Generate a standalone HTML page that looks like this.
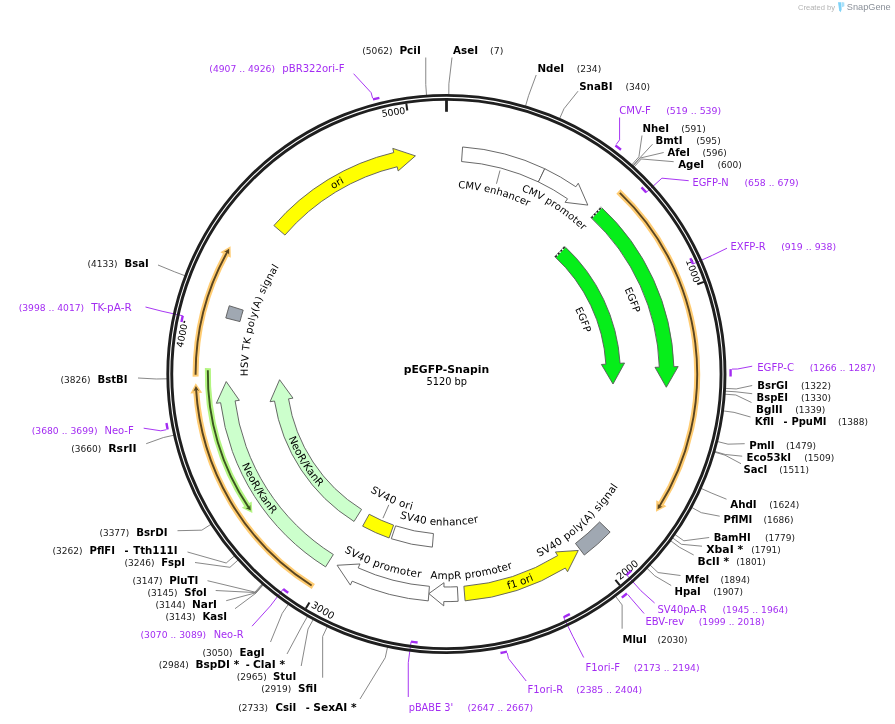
<!DOCTYPE html>
<html><head><meta charset="utf-8"><title>pEGFP-Snapin</title>
<style>html,body{margin:0;padding:0;background:#fff;}svg{display:block;}</style></head>
<body>
<svg width="895" height="724" viewBox="0 0 895 724" font-family='"DejaVu Sans", "Liberation Sans", sans-serif'>
<rect width="895" height="724" fill="#fff"/>
<defs><path id="p1" d="M397.59 194.1A186.4 186.4 0 0 1 577.79 241.78"/>
<path id="p2" d="M456.41 176.35A197.9 197.9 0 0 1 622.57 283.85"/>
<path id="p3" d="M568.62 219.24A197.2 197.2 0 0 1 641.53 402.47"/>
<path id="p4" d="M535.65 260.99A144 144 0 0 1 588.89 394.79"/>
<path id="p5" d="M488.54 574.83A205.2 205.2 0 0 0 641.39 437.92"/>
<path id="p6" d="M405.58 594.25A224 224 0 0 0 616.73 519.48"/>
<path id="p7" d="M366.88 563.17A205.2 205.2 0 0 0 570.46 537.45"/>
<path id="p8" d="M292.71 509.97A205.2 205.2 0 0 0 487.31 575.08"/>
<path id="p9" d="M364.22 501.27A151.5 151.5 0 0 0 515.53 508.81"/>
<path id="p10" d="M333.47 457.26A140.3 140.3 0 0 0 462.04 513.43"/>
<path id="p11" d="M222.67 379.47A223.8 223.8 0 0 0 339.27 570.49"/>
<path id="p12" d="M276.08 379.35A170.4 170.4 0 0 0 365.88 524.17"/>
<path id="p13" d="M253.67 421.94A198.6 198.6 0 0 1 308.52 231.07"/>
<path id="p14" d="M259.03 264.95A216.8 216.8 0 0 1 447.16 157.2"/></defs>
<g fill="none" stroke="#7a7a7a" stroke-width="0.9" stroke-linejoin="round"><polyline points="425.76,57.5 425.76,84.53 426.57,95.91" />
<polyline points="452,57.5 448.89,83.81 448.79,95.21" />
<polyline points="536.2,75 528.59,95.68 525.36,106.62" />
<polyline points="578,91.2 564,108.7 559.38,119.12" />
<polyline points="642,135.5 638.9,156.84 631.34,165.37" />
<polyline points="652.5,144.2 639.96,157.78 632.36,166.28" />
<polyline points="663.7,152.5 640.23,158.02 632.61,166.51" />
<polyline points="673.7,161.7 641.29,158.98 633.63,167.42" />
<polyline points="752.2,385.5 736.21,388.95 724.83,388.36" />
<polyline points="752.2,393.7 736.05,391.8 724.68,391.1" />
<polyline points="751.5,402.5 735.84,394.99 724.47,394.17" />
<polyline points="750.5,417 734.05,412.35 722.75,410.84" />
<polyline points="744.7,443.7 727.99,444.17 716.93,441.41" />
<polyline points="742.2,456.2 725.22,454.48 714.26,451.32" />
<polyline points="741,463.7 725.02,455.17 714.07,451.98" />
<polyline points="726.5,499.2 711.12,492.9 700.72,488.23" />
<polyline points="719.7,516.2 701.32,512.68 691.31,507.23" />
<polyline points="709.2,537.5 683.87,540.81 674.54,534.26" />
<polyline points="702,546.2 681.39,544.29 672.15,537.6" />
<polyline points="693.7,555 679.28,547.16 670.13,540.36" />
<polyline points="680.5,575.5 658.04,572.55 649.73,564.75" />
<polyline points="671.2,585.5 654.85,575.9 646.66,567.97" />
<polyline points="622.12,628.7 622.12,604.95 615.22,595.88" />
<polyline points="360,699 385.25,657.68 387.65,646.54" />
<polyline points="322.65,677.7 322.65,636.49 327.51,626.18" />
<polyline points="301.2,666 308.03,629.09 313.47,619.07" />
<polyline points="287,654 302.12,625.79 307.79,615.9" />
<polyline points="270.5,642 282.22,613.3 288.67,603.9" />
<polyline points="235,608.7 256.04,593.04 263.52,584.44" />
<polyline points="226.2,600.7 255.77,592.81 263.26,584.21" />
<polyline points="215.7,590.5 255.5,592.57 263,583.99" />
<polyline points="207.5,580.7 254.97,592.11 262.49,583.54" />
<polyline points="195,562.5 229.95,567.3 238.45,559.7" />
<polyline points="187.5,552 226.19,563.01 234.84,555.59" />
<polyline points="177.5,530.7 201.8,530.16 211.41,524.02" />
<polyline points="146.2,443.7 163.25,437.58 174.37,435.09" />
<polyline points="138,378 156.24,378.99 167.64,378.79" />
<polyline points="158,265 174.76,271.89 185.43,275.9" /></g>
<g fill="none" stroke="#a32cf2" stroke-width="0.95" stroke-linejoin="round"><polyline points="619.58,117.5 619.58,139.89 616.25,144.4" />
<polyline points="688.7,180.7 661.92,178.18 646.23,192.43" />
<polyline points="727,248.2 712.33,255.34 692.97,263.98" />
<polyline points="752.2,366.2 737.56,369 731.96,369.09" />
<polyline points="654.6,603 640.9,590.72 626.74,574.94" />
<polyline points="644.1,613.5 631.41,598.87 627.85,594.55" />
<polyline points="583.7,657.5 572.84,636.32 563.63,617.22" />
<polyline points="526.2,681 508.46,658.51 507.26,653.04" />
<polyline points="408.27,697 408.27,662.69 411.05,641.68" />
<polyline points="252,626.2 270.36,605.96 283.18,589.08" />
<polyline points="143.7,428.2 160.8,430.81 166.29,429.72" />
<polyline points="145.5,307 162.04,311.24 182.74,315.81" />
<polyline points="353.6,73.7 371.15,92.69 372.59,98.1" /></g>
<circle cx="446.4" cy="374" r="278.6" fill="none" stroke="#1f1f1f" stroke-width="2.9"/>
<circle cx="446.4" cy="374" r="274.65" fill="none" stroke="#1f1f1f" stroke-width="2.9"/>
<line x1="446.5" y1="100" x2="446.5" y2="111.8" stroke="#1f1f1f" stroke-width="2.8"/>
<line x1="703.91" y1="281.86" x2="697.23" y2="284.25" stroke="#1f1f1f" stroke-width="2.0"/>
<text transform="translate(446.4,374) rotate(70.31)" x="-2" y="-263.6" text-anchor="end" font-size="9.4">1000</text>
<line x1="619.91" y1="585.42" x2="615.4" y2="579.93" stroke="#1f1f1f" stroke-width="2.0"/>
<text transform="translate(446.4,374) rotate(320.62)" x="3.2" y="269.6" text-anchor="start" font-size="9.8">2000</text>
<line x1="305.79" y1="608.59" x2="309.44" y2="602.5" stroke="#1f1f1f" stroke-width="2.0"/>
<text transform="translate(446.4,374) rotate(390.94)" x="3.2" y="269.6" text-anchor="start" font-size="9.8">3000</text>
<line x1="183.55" y1="321.72" x2="185.12" y2="322.03" stroke="#1f1f1f" stroke-width="2.0"/>
<text transform="translate(446.4,374) rotate(281.25)" x="-2" y="-263.6" text-anchor="end" font-size="9.4">4000</text>
<line x1="406.27" y1="103.46" x2="407.31" y2="110.48" stroke="#1f1f1f" stroke-width="2.0"/>
<text transform="translate(446.4,374) rotate(351.56)" x="-2" y="-263.6" text-anchor="end" font-size="9.4">5000</text>
<g fill="none" stroke="#a32cf2" stroke-width="2.4"><path d="M615.42 145.52A284.2 284.2 0 0 1 620.97 149.74"/>
<path d="M641.49 187.34A270 270 0 0 1 646.23 192.43"/>
<path d="M690.34 258.26A270 270 0 0 1 692.97 263.98"/>
<path d="M730.56 369.12A284.2 284.2 0 0 1 730.59 376.44"/>
<path d="M631.37 570.69A270 270 0 0 1 626.74 574.94"/>
<path d="M626.96 593.47A284.2 284.2 0 0 1 621.8 597.62"/>
<path d="M569.86 614.12A270 270 0 0 1 563.63 617.22"/>
<path d="M506.97 651.67A284.2 284.2 0 0 1 500.48 653.01"/>
<path d="M417.63 642.46A270 270 0 0 1 411.05 641.68"/>
<path d="M288.23 592.82A270 270 0 0 1 283.18 589.08"/>
<path d="M167.66 429.44A284.2 284.2 0 0 1 166.44 422.93"/>
<path d="M181.46 321.98A270 270 0 0 1 182.74 315.81"/>
<path d="M372.96 99.45A284.2 284.2 0 0 1 379.38 97.82"/></g>
<path d="M462.59 146.98A227.6 227.6 0 0 1 544.72 168.73L538.41 181.9A213 213 0 0 0 461.55 161.54Z" fill="#ffffff" stroke="#585858" stroke-width="0.9" stroke-linejoin="miter"/>
<path d="M544.72 168.73A227.6 227.6 0 0 1 575.83 186.78L578.28 183.25L587.82 205.09L565.08 202.33L567.53 198.79A213 213 0 0 0 538.41 181.9Z" fill="#ffffff" stroke="#585858" stroke-width="0.9" stroke-linejoin="miter"/>
<path d="M600.9 206.87A227.6 227.6 0 0 1 673.88 366.71L678.18 366.58L666.3 387.24L654.99 367.32L659.29 367.18A213 213 0 0 0 590.98 217.59Z" fill="#06ee1a" stroke="#585858" stroke-width="0.9" stroke-linejoin="miter"/>
<path d="M564.51 246.23A174 174 0 0 1 620.07 363.31L624.56 363.03L613 384.03L601.41 364.46L605.9 364.18A159.8 159.8 0 0 0 554.87 256.66Z" fill="#06ee1a" stroke="#585858" stroke-width="0.9" stroke-linejoin="miter"/>
<line x1="591.48" y1="218.05" x2="601.43" y2="207.36" stroke="#fff" stroke-width="1.6"/>
<line x1="591.48" y1="218.05" x2="601.43" y2="207.36" stroke="#222" stroke-width="1.6" stroke-dasharray="2.2 1.6"/>
<line x1="555.36" y1="257.11" x2="565.05" y2="246.72" stroke="#fff" stroke-width="1.6"/>
<line x1="555.36" y1="257.11" x2="565.05" y2="246.72" stroke="#222" stroke-width="1.6" stroke-dasharray="2.2 1.6"/>
<path d="M610.12 532.1A227.6 227.6 0 0 1 584.32 555.05L575.48 543.44A213 213 0 0 0 599.62 521.96Z" fill="#a0a8b2" stroke="#585858" stroke-width="0.9" stroke-linejoin="miter"/>
<path d="M465.09 600.83A227.6 227.6 0 0 0 565.3 568.07L567.55 571.74L578.28 550.46L555.43 551.96L557.67 555.62A213 213 0 0 1 463.89 586.28Z" fill="#ffff00" stroke="#585858" stroke-width="0.9" stroke-linejoin="miter"/>
<path d="M458.13 601.3A227.6 227.6 0 0 1 443.79 601.58L443.74 605.88L428.85 593.6L444 582.69L443.95 586.99A213 213 0 0 0 457.37 586.72Z" fill="#ffffff" stroke="#585858" stroke-width="0.9" stroke-linejoin="miter"/>
<path d="M428.26 600.88A227.6 227.6 0 0 1 352.15 581.17L350.37 585.08L337.11 565.28L359.98 563.97L358.2 567.88A213 213 0 0 0 429.43 586.32Z" fill="#ffffff" stroke="#585858" stroke-width="0.9" stroke-linejoin="miter"/>
<path d="M432.35 547.13A173.7 173.7 0 0 1 391.31 538.73L395.62 525.83A160.1 160.1 0 0 0 433.45 533.58Z" fill="#ffffff" stroke="#585858" stroke-width="0.9" stroke-linejoin="miter"/>
<path d="M389.09 537.97A173.7 173.7 0 0 1 362.64 526.17L369.2 514.26A160.1 160.1 0 0 0 393.58 525.13Z" fill="#ffff00" stroke="#585858" stroke-width="0.9" stroke-linejoin="miter"/>
<path d="M325.58 566.88A227.6 227.6 0 0 1 220.62 402.72L216.35 403.26L226.23 381.57L239.37 400.33L235.1 400.87A213 213 0 0 0 333.33 554.51Z" fill="#ccffcc" stroke="#585858" stroke-width="0.9" stroke-linejoin="miter"/>
<path d="M354.03 521.46A174 174 0 0 1 274.51 401.03L270.07 401.73L279.6 379.73L292.99 398.13L288.54 398.83A159.8 159.8 0 0 0 361.57 509.43Z" fill="#ccffcc" stroke="#585858" stroke-width="0.9" stroke-linejoin="miter"/>
<path d="M225.8 317.98A227.6 227.6 0 0 1 229.27 305.75L243.2 310.13A213 213 0 0 0 239.95 321.57Z" fill="#a0a8b2" stroke="#585858" stroke-width="0.9" stroke-linejoin="miter"/>
<path d="M273.88 225.55A227.6 227.6 0 0 1 393.79 152.56L392.79 148.38L415.41 155.89L398.16 170.95L397.16 166.77A213 213 0 0 0 284.94 235.07Z" fill="#ffff00" stroke="#585858" stroke-width="0.9" stroke-linejoin="miter"/>
<path d="M618.4 191.47A250.8 250.8 0 0 1 660.83 504.09" fill="none" stroke="#ffcc72" stroke-width="6.0"/>
<path d="M666.4 506.27L656.02 511.69L656.29 500.19Z" fill="#ffcc72"/>
<path d="M619.85 192.85A250.8 250.8 0 0 1 658.99 507.07" fill="none" stroke="#5a4520" stroke-width="1.9"/>
<path d="M662.78 506.45L657.54 509.35L657.83 503.43L659.47 506.3Z" fill="#5a4520"/>
<path d="M313.31 586.57A250.8 250.8 0 0 1 196.26 392.18" fill="none" stroke="#ffcc72" stroke-width="6.0"/>
<path d="M190.45 393.62L195.77 383.19L202.22 392.72Z" fill="#ffcc72"/>
<path d="M311.62 585.51A250.8 250.8 0 0 1 196.03 388.68" fill="none" stroke="#5a4520" stroke-width="1.9"/>
<path d="M193.3 391.38L195.89 385.99L199.08 390.98L196.08 389.58Z" fill="#5a4520"/>
<path d="M195.61 376.63A250.8 250.8 0 0 1 226.08 254.16" fill="none" stroke="#ffcc72" stroke-width="6.0"/>
<path d="M220.41 252.24L230.53 246.33L230.8 257.84Z" fill="#ffcc72"/>
<path d="M195.6 374.63A250.8 250.8 0 0 1 227.78 251.1" fill="none" stroke="#5a4520" stroke-width="1.9"/>
<path d="M224.02 251.89L229.11 248.75L229.11 254.68L227.34 251.88Z" fill="#5a4520"/>
<path d="M207.87 368.17A238.6 238.6 0 0 0 247.29 505.48" fill="none" stroke="#b4f582" stroke-width="6.0"/>
<path d="M241.81 507.87L252.39 512.89L251.68 501.41Z" fill="#b4f582"/>
<path d="M207.83 370.17A238.6 238.6 0 0 0 249.24 508.39" fill="none" stroke="#3a5520" stroke-width="1.9"/>
<path d="M245.43 507.92L250.78 510.61L250.26 504.7L248.74 507.64Z" fill="#3a5520"/>
<text font-size="10.0" fill="#000" font-weight="normal"><textPath href="#p1" startOffset="50%" text-anchor="middle" letter-spacing="0.03">CMV enhancer</textPath></text>
<text font-size="10.0" fill="#000" font-weight="normal"><textPath href="#p2" startOffset="50%" text-anchor="middle" letter-spacing="0.12">CMV promoter</textPath></text>
<text font-size="10.0" fill="#000" font-weight="normal"><textPath href="#p3" startOffset="50%" text-anchor="middle">EGFP</textPath></text>
<text font-size="10.0" fill="#000" font-weight="normal"><textPath href="#p4" startOffset="50%" text-anchor="middle">EGFP</textPath></text>
<text font-size="10.4" fill="#000" font-weight="normal"><textPath href="#p5" startOffset="50%" text-anchor="middle" letter-spacing="0.3">SV40 poly(A) signal</textPath></text>
<text font-size="10.4" fill="#000" font-weight="normal"><textPath href="#p6" startOffset="50%" text-anchor="middle">f1 ori</textPath></text>
<text font-size="10.4" fill="#000" font-weight="normal"><textPath href="#p7" startOffset="50%" text-anchor="middle" letter-spacing="0.09">AmpR promoter</textPath></text>
<text font-size="10.4" fill="#000" font-weight="normal"><textPath href="#p8" startOffset="50%" text-anchor="middle" letter-spacing="0.25">SV40 promoter</textPath></text>
<text font-size="10.4" fill="#000" font-weight="normal"><textPath href="#p9" startOffset="50%" text-anchor="middle" letter-spacing="0.06">SV40 enhancer</textPath></text>
<text font-size="10.4" fill="#000" font-weight="normal"><textPath href="#p10" startOffset="50%" text-anchor="middle" letter-spacing="0.28">SV40 ori</textPath></text>
<text font-size="10.4" fill="#000" font-weight="normal"><textPath href="#p11" startOffset="50%" text-anchor="middle">NeoR/KanR</textPath></text>
<text font-size="10.4" fill="#000" font-weight="normal"><textPath href="#p12" startOffset="50%" text-anchor="middle">NeoR/KanR</textPath></text>
<text font-size="10.0" fill="#000" font-weight="normal"><textPath href="#p13" startOffset="50%" text-anchor="middle" letter-spacing="0.33">HSV TK poly(A) signal</textPath></text>
<text font-size="10.0" fill="#000" font-weight="normal"><textPath href="#p14" startOffset="50%" text-anchor="middle">ori</textPath></text>
<line x1="499.99" y1="170.44" x2="496.48" y2="183.78" stroke="#606060" stroke-width="0.8"/>
<line x1="382.97" y1="518.16" x2="388.81" y2="504.89" stroke="#606060" stroke-width="0.8"/>
<text x="362.3" y="53.5" font-size="8.0" font-weight="normal" fill="#1a1a1a" textLength="30.2" lengthAdjust="spacingAndGlyphs">(5062)</text>
<text x="399.4" y="53.5" font-size="10.2" font-weight="bold" fill="#000" textLength="21.4" lengthAdjust="spacingAndGlyphs">PciI</text>
<text x="453" y="53.5" font-size="10.2" font-weight="bold" fill="#000" textLength="25" lengthAdjust="spacingAndGlyphs">AseI</text>
<text x="490" y="53.5" font-size="8.0" font-weight="normal" fill="#1a1a1a" textLength="13.3" lengthAdjust="spacingAndGlyphs">(7)</text>
<text x="537.5" y="71.5" font-size="10.2" font-weight="bold" fill="#000" textLength="26.7" lengthAdjust="spacingAndGlyphs">NdeI</text>
<text x="576.7" y="71.5" font-size="8.0" font-weight="normal" fill="#1a1a1a" textLength="24.5" lengthAdjust="spacingAndGlyphs">(234)</text>
<text x="579.2" y="89.5" font-size="10.2" font-weight="bold" fill="#000" textLength="33.3" lengthAdjust="spacingAndGlyphs">SnaBI</text>
<text x="625.5" y="89.5" font-size="8.0" font-weight="normal" fill="#1a1a1a" textLength="24.5" lengthAdjust="spacingAndGlyphs">(340)</text>
<text x="642.5" y="131.5" font-size="10.2" font-weight="bold" fill="#000" textLength="26.5" lengthAdjust="spacingAndGlyphs">NheI</text>
<text x="681.2" y="131.5" font-size="8.0" font-weight="normal" fill="#1a1a1a" textLength="24.5" lengthAdjust="spacingAndGlyphs">(591)</text>
<text x="655.5" y="143.5" font-size="10.2" font-weight="bold" fill="#000" textLength="27" lengthAdjust="spacingAndGlyphs">BmtI</text>
<text x="696.2" y="143.5" font-size="8.0" font-weight="normal" fill="#1a1a1a" textLength="24.5" lengthAdjust="spacingAndGlyphs">(595)</text>
<text x="667.5" y="155.5" font-size="10.2" font-weight="bold" fill="#000" textLength="22.5" lengthAdjust="spacingAndGlyphs">AfeI</text>
<text x="702.5" y="155.5" font-size="8.0" font-weight="normal" fill="#1a1a1a" textLength="24.2" lengthAdjust="spacingAndGlyphs">(596)</text>
<text x="678.2" y="167.5" font-size="10.2" font-weight="bold" fill="#000" textLength="26" lengthAdjust="spacingAndGlyphs">AgeI</text>
<text x="717.5" y="167.5" font-size="8.0" font-weight="normal" fill="#1a1a1a" textLength="24.2" lengthAdjust="spacingAndGlyphs">(600)</text>
<text x="757.2" y="388.7" font-size="10.2" font-weight="bold" fill="#000" textLength="30.8" lengthAdjust="spacingAndGlyphs">BsrGI</text>
<text x="801" y="388.7" font-size="8.0" font-weight="normal" fill="#1a1a1a" textLength="30" lengthAdjust="spacingAndGlyphs">(1322)</text>
<text x="756.5" y="400.7" font-size="10.2" font-weight="bold" fill="#000" textLength="31.5" lengthAdjust="spacingAndGlyphs">BspEI</text>
<text x="801" y="400.7" font-size="8.0" font-weight="normal" fill="#1a1a1a" textLength="30" lengthAdjust="spacingAndGlyphs">(1330)</text>
<text x="756" y="412.7" font-size="10.2" font-weight="bold" fill="#000" textLength="26.7" lengthAdjust="spacingAndGlyphs">BglII</text>
<text x="795.2" y="412.7" font-size="8.0" font-weight="normal" fill="#1a1a1a" textLength="30" lengthAdjust="spacingAndGlyphs">(1339)</text>
<text x="754.7" y="424.7" font-size="10.2" font-weight="bold" fill="#000" textLength="19.5" lengthAdjust="spacingAndGlyphs">KflI</text>
<text x="783.6" y="424.7" font-size="10.2" font-weight="bold" fill="#000" textLength="4" lengthAdjust="spacingAndGlyphs">-</text>
<text x="791.5" y="424.7" font-size="10.2" font-weight="bold" fill="#000" textLength="35" lengthAdjust="spacingAndGlyphs">PpuMI</text>
<text x="838" y="424.7" font-size="8.0" font-weight="normal" fill="#1a1a1a" textLength="30" lengthAdjust="spacingAndGlyphs">(1388)</text>
<text x="749.2" y="448.7" font-size="10.2" font-weight="bold" fill="#000" textLength="25.5" lengthAdjust="spacingAndGlyphs">PmlI</text>
<text x="786" y="448.7" font-size="8.0" font-weight="normal" fill="#1a1a1a" textLength="30" lengthAdjust="spacingAndGlyphs">(1479)</text>
<text x="746.5" y="460.7" font-size="10.2" font-weight="bold" fill="#000" textLength="44.5" lengthAdjust="spacingAndGlyphs">Eco53kI</text>
<text x="804.2" y="460.7" font-size="8.0" font-weight="normal" fill="#1a1a1a" textLength="30" lengthAdjust="spacingAndGlyphs">(1509)</text>
<text x="743.5" y="472.7" font-size="10.2" font-weight="bold" fill="#000" textLength="23.7" lengthAdjust="spacingAndGlyphs">SacI</text>
<text x="779.2" y="472.7" font-size="8.0" font-weight="normal" fill="#1a1a1a" textLength="29.8" lengthAdjust="spacingAndGlyphs">(1511)</text>
<text x="730.2" y="508" font-size="10.2" font-weight="bold" fill="#000" textLength="26.5" lengthAdjust="spacingAndGlyphs">AhdI</text>
<text x="769.2" y="508" font-size="8.0" font-weight="normal" fill="#1a1a1a" textLength="30" lengthAdjust="spacingAndGlyphs">(1624)</text>
<text x="723.5" y="523" font-size="10.2" font-weight="bold" fill="#000" textLength="28.7" lengthAdjust="spacingAndGlyphs">PflMI</text>
<text x="763.5" y="523" font-size="8.0" font-weight="normal" fill="#1a1a1a" textLength="30" lengthAdjust="spacingAndGlyphs">(1686)</text>
<text x="713.7" y="541" font-size="10.2" font-weight="bold" fill="#000" textLength="37" lengthAdjust="spacingAndGlyphs">BamHI</text>
<text x="765" y="541" font-size="8.0" font-weight="normal" fill="#1a1a1a" textLength="30" lengthAdjust="spacingAndGlyphs">(1779)</text>
<text x="706.2" y="553" font-size="10.2" font-weight="bold" fill="#000" textLength="37" lengthAdjust="spacingAndGlyphs">XbaI *</text>
<text x="751.2" y="553" font-size="8.0" font-weight="normal" fill="#1a1a1a" textLength="29.5" lengthAdjust="spacingAndGlyphs">(1791)</text>
<text x="697.5" y="565" font-size="10.2" font-weight="bold" fill="#000" textLength="31.7" lengthAdjust="spacingAndGlyphs">BclI *</text>
<text x="736.2" y="565" font-size="8.0" font-weight="normal" fill="#1a1a1a" textLength="29.5" lengthAdjust="spacingAndGlyphs">(1801)</text>
<text x="685" y="583" font-size="10.2" font-weight="bold" fill="#000" textLength="24.2" lengthAdjust="spacingAndGlyphs">MfeI</text>
<text x="720.5" y="583" font-size="8.0" font-weight="normal" fill="#1a1a1a" textLength="29.5" lengthAdjust="spacingAndGlyphs">(1894)</text>
<text x="674.5" y="595" font-size="10.2" font-weight="bold" fill="#000" textLength="26.2" lengthAdjust="spacingAndGlyphs">HpaI</text>
<text x="713.2" y="595" font-size="8.0" font-weight="normal" fill="#1a1a1a" textLength="29.8" lengthAdjust="spacingAndGlyphs">(1907)</text>
<text x="622.5" y="643" font-size="10.2" font-weight="bold" fill="#000" textLength="24.2" lengthAdjust="spacingAndGlyphs">MluI</text>
<text x="657.5" y="643" font-size="8.0" font-weight="normal" fill="#1a1a1a" textLength="30" lengthAdjust="spacingAndGlyphs">(2030)</text>
<text x="238.2" y="710.7" font-size="8.0" font-weight="normal" fill="#1a1a1a" textLength="29.8" lengthAdjust="spacingAndGlyphs">(2733)</text>
<text x="275.5" y="710.7" font-size="10.2" font-weight="bold" fill="#000" textLength="20.7" lengthAdjust="spacingAndGlyphs">CsiI</text>
<text x="305.8" y="710.7" font-size="10.2" font-weight="bold" fill="#000" textLength="4" lengthAdjust="spacingAndGlyphs">-</text>
<text x="313.2" y="710.7" font-size="10.2" font-weight="bold" fill="#000" textLength="43.5" lengthAdjust="spacingAndGlyphs">SexAI *</text>
<text x="261.2" y="692" font-size="8.0" font-weight="normal" fill="#1a1a1a" textLength="30" lengthAdjust="spacingAndGlyphs">(2919)</text>
<text x="298" y="692" font-size="10.2" font-weight="bold" fill="#000" textLength="19" lengthAdjust="spacingAndGlyphs">SfiI</text>
<text x="236.7" y="680" font-size="8.0" font-weight="normal" fill="#1a1a1a" textLength="30" lengthAdjust="spacingAndGlyphs">(2965)</text>
<text x="273" y="680" font-size="10.2" font-weight="bold" fill="#000" textLength="23.2" lengthAdjust="spacingAndGlyphs">StuI</text>
<text x="158.7" y="668" font-size="8.0" font-weight="normal" fill="#1a1a1a" textLength="30" lengthAdjust="spacingAndGlyphs">(2984)</text>
<text x="195.5" y="668" font-size="10.2" font-weight="bold" fill="#000" textLength="43.7" lengthAdjust="spacingAndGlyphs">BspDI *</text>
<text x="245.8" y="668" font-size="10.2" font-weight="bold" fill="#000" textLength="4" lengthAdjust="spacingAndGlyphs">-</text>
<text x="253" y="668" font-size="10.2" font-weight="bold" fill="#000" textLength="32" lengthAdjust="spacingAndGlyphs">ClaI *</text>
<text x="202.5" y="656" font-size="8.0" font-weight="normal" fill="#1a1a1a" textLength="30" lengthAdjust="spacingAndGlyphs">(3050)</text>
<text x="239.5" y="656" font-size="10.2" font-weight="bold" fill="#000" textLength="25" lengthAdjust="spacingAndGlyphs">EagI</text>
<text x="165.5" y="620" font-size="8.0" font-weight="normal" fill="#1a1a1a" textLength="30" lengthAdjust="spacingAndGlyphs">(3143)</text>
<text x="202.5" y="620" font-size="10.2" font-weight="bold" fill="#000" textLength="24.5" lengthAdjust="spacingAndGlyphs">KasI</text>
<text x="155.5" y="608" font-size="8.0" font-weight="normal" fill="#1a1a1a" textLength="30" lengthAdjust="spacingAndGlyphs">(3144)</text>
<text x="192" y="608" font-size="10.2" font-weight="bold" fill="#000" textLength="25" lengthAdjust="spacingAndGlyphs">NarI</text>
<text x="147.5" y="596" font-size="8.0" font-weight="normal" fill="#1a1a1a" textLength="30" lengthAdjust="spacingAndGlyphs">(3145)</text>
<text x="184.2" y="596" font-size="10.2" font-weight="bold" fill="#000" textLength="22.5" lengthAdjust="spacingAndGlyphs">SfoI</text>
<text x="132.5" y="584.2" font-size="8.0" font-weight="normal" fill="#1a1a1a" textLength="30" lengthAdjust="spacingAndGlyphs">(3147)</text>
<text x="169.2" y="584.2" font-size="10.2" font-weight="bold" fill="#000" textLength="29" lengthAdjust="spacingAndGlyphs">PluTI</text>
<text x="124.5" y="566.2" font-size="8.0" font-weight="normal" fill="#1a1a1a" textLength="30" lengthAdjust="spacingAndGlyphs">(3246)</text>
<text x="161.2" y="566.2" font-size="10.2" font-weight="bold" fill="#000" textLength="23.8" lengthAdjust="spacingAndGlyphs">FspI</text>
<text x="52.5" y="554.2" font-size="8.0" font-weight="normal" fill="#1a1a1a" textLength="30" lengthAdjust="spacingAndGlyphs">(3262)</text>
<text x="89.5" y="554.2" font-size="10.2" font-weight="bold" fill="#000" textLength="25.5" lengthAdjust="spacingAndGlyphs">PflFI</text>
<text x="124.6" y="554.2" font-size="10.2" font-weight="bold" fill="#000" textLength="4" lengthAdjust="spacingAndGlyphs">-</text>
<text x="133.2" y="554.2" font-size="10.2" font-weight="bold" fill="#000" textLength="44.3" lengthAdjust="spacingAndGlyphs">Tth111I</text>
<text x="99.5" y="536.2" font-size="8.0" font-weight="normal" fill="#1a1a1a" textLength="29.7" lengthAdjust="spacingAndGlyphs">(3377)</text>
<text x="136.2" y="536.2" font-size="10.2" font-weight="bold" fill="#000" textLength="31.3" lengthAdjust="spacingAndGlyphs">BsrDI</text>
<text x="71.2" y="452" font-size="8.0" font-weight="normal" fill="#1a1a1a" textLength="30" lengthAdjust="spacingAndGlyphs">(3660)</text>
<text x="108.2" y="452" font-size="10.2" font-weight="bold" fill="#000" textLength="28.5" lengthAdjust="spacingAndGlyphs">RsrII</text>
<text x="60.5" y="383" font-size="8.0" font-weight="normal" fill="#1a1a1a" textLength="30" lengthAdjust="spacingAndGlyphs">(3826)</text>
<text x="97.5" y="383" font-size="10.2" font-weight="bold" fill="#000" textLength="30" lengthAdjust="spacingAndGlyphs">BstBI</text>
<text x="87.5" y="267.2" font-size="8.0" font-weight="normal" fill="#1a1a1a" textLength="30" lengthAdjust="spacingAndGlyphs">(4133)</text>
<text x="124.5" y="267.2" font-size="10.2" font-weight="bold" fill="#000" textLength="24.2" lengthAdjust="spacingAndGlyphs">BsaI</text>
<text x="619.2" y="114.1" font-size="10" font-weight="normal" fill="#a32cf2" textLength="31.5" lengthAdjust="spacingAndGlyphs">CMV-F</text>
<text x="666.2" y="114.1" font-size="8.0" font-weight="normal" fill="#a32cf2" textLength="55" lengthAdjust="spacingAndGlyphs">(519 .. 539)</text>
<text x="692.5" y="186" font-size="10" font-weight="normal" fill="#a32cf2" textLength="36.2" lengthAdjust="spacingAndGlyphs">EGFP-N</text>
<text x="744.5" y="186" font-size="8.0" font-weight="normal" fill="#a32cf2" textLength="54.2" lengthAdjust="spacingAndGlyphs">(658 .. 679)</text>
<text x="730.5" y="250" font-size="10" font-weight="normal" fill="#a32cf2" textLength="35.2" lengthAdjust="spacingAndGlyphs">EXFP-R</text>
<text x="781.2" y="250" font-size="8.0" font-weight="normal" fill="#a32cf2" textLength="55" lengthAdjust="spacingAndGlyphs">(919 .. 938)</text>
<text x="757.2" y="371" font-size="10" font-weight="normal" fill="#a32cf2" textLength="36.8" lengthAdjust="spacingAndGlyphs">EGFP-C</text>
<text x="809.7" y="371" font-size="8.0" font-weight="normal" fill="#a32cf2" textLength="65.8" lengthAdjust="spacingAndGlyphs">(1266 .. 1287)</text>
<text x="657.5" y="612.5" font-size="10" font-weight="normal" fill="#a32cf2" textLength="49.2" lengthAdjust="spacingAndGlyphs">SV40pA-R</text>
<text x="722.5" y="612.5" font-size="8.0" font-weight="normal" fill="#a32cf2" textLength="65.5" lengthAdjust="spacingAndGlyphs">(1945 .. 1964)</text>
<text x="645.5" y="625" font-size="10" font-weight="normal" fill="#a32cf2" textLength="38.7" lengthAdjust="spacingAndGlyphs">EBV-rev</text>
<text x="698.7" y="625" font-size="8.0" font-weight="normal" fill="#a32cf2" textLength="65.8" lengthAdjust="spacingAndGlyphs">(1999 .. 2018)</text>
<text x="585.5" y="670.5" font-size="10" font-weight="normal" fill="#a32cf2" textLength="34.5" lengthAdjust="spacingAndGlyphs">F1ori-F</text>
<text x="633.7" y="670.5" font-size="8.0" font-weight="normal" fill="#a32cf2" textLength="65.8" lengthAdjust="spacingAndGlyphs">(2173 .. 2194)</text>
<text x="527.5" y="693.2" font-size="10" font-weight="normal" fill="#a32cf2" textLength="35.7" lengthAdjust="spacingAndGlyphs">F1ori-R</text>
<text x="576.2" y="693.2" font-size="8.0" font-weight="normal" fill="#a32cf2" textLength="65.8" lengthAdjust="spacingAndGlyphs">(2385 .. 2404)</text>
<text x="408.7" y="711.2" font-size="10" font-weight="normal" fill="#a32cf2" textLength="44.5" lengthAdjust="spacingAndGlyphs">pBABE 3'</text>
<text x="467.5" y="711.2" font-size="8.0" font-weight="normal" fill="#a32cf2" textLength="65.7" lengthAdjust="spacingAndGlyphs">(2647 .. 2667)</text>
<text x="213.7" y="637.7" font-size="10" font-weight="normal" fill="#a32cf2" textLength="30" lengthAdjust="spacingAndGlyphs">Neo-R</text>
<text x="140.5" y="637.7" font-size="8.0" font-weight="normal" fill="#a32cf2" textLength="65.7" lengthAdjust="spacingAndGlyphs">(3070 .. 3089)</text>
<text x="104.5" y="434.2" font-size="10" font-weight="normal" fill="#a32cf2" textLength="29.2" lengthAdjust="spacingAndGlyphs">Neo-F</text>
<text x="31.7" y="434.2" font-size="8.0" font-weight="normal" fill="#a32cf2" textLength="65.8" lengthAdjust="spacingAndGlyphs">(3680 .. 3699)</text>
<text x="91.2" y="311.2" font-size="10" font-weight="normal" fill="#a32cf2" textLength="40.5" lengthAdjust="spacingAndGlyphs">TK-pA-R</text>
<text x="18.7" y="311.2" font-size="8.0" font-weight="normal" fill="#a32cf2" textLength="65.5" lengthAdjust="spacingAndGlyphs">(3998 .. 4017)</text>
<text x="282.3" y="72.3" font-size="10" font-weight="normal" fill="#a32cf2" textLength="62.2" lengthAdjust="spacingAndGlyphs">pBR322ori-F</text>
<text x="209.3" y="72.3" font-size="8.0" font-weight="normal" fill="#a32cf2" textLength="65.7" lengthAdjust="spacingAndGlyphs">(4907 .. 4926)</text>
<text x="446.4" y="373.2" text-anchor="middle" font-size="10" font-weight="bold" textLength="85.5" lengthAdjust="spacingAndGlyphs">pEGFP-Snapin</text>
<text x="446.8" y="384.8" text-anchor="middle" font-size="10" textLength="40.6" lengthAdjust="spacingAndGlyphs">5120 bp</text>
<g font-family='"Liberation Sans", sans-serif'><text x="797.9" y="10.2" font-size="7" fill="#b3b3b3" textLength="37.2" lengthAdjust="spacingAndGlyphs">Created by</text><path d="M838 2.2 L841.3 2.2 L841.6 9.5 L840.6 12.3 L839.2 10.5 Z" fill="#7fd2f7"/><path d="M841.8 2 L844.3 2.6 L844.4 6.2 L842 7.2 Z" fill="#a9e1fa"/><text x="846.8" y="10.4" font-size="9.6" fill="#8a9099" textLength="43.9" lengthAdjust="spacingAndGlyphs">SnapGene</text></g>
</svg>
</body></html>
